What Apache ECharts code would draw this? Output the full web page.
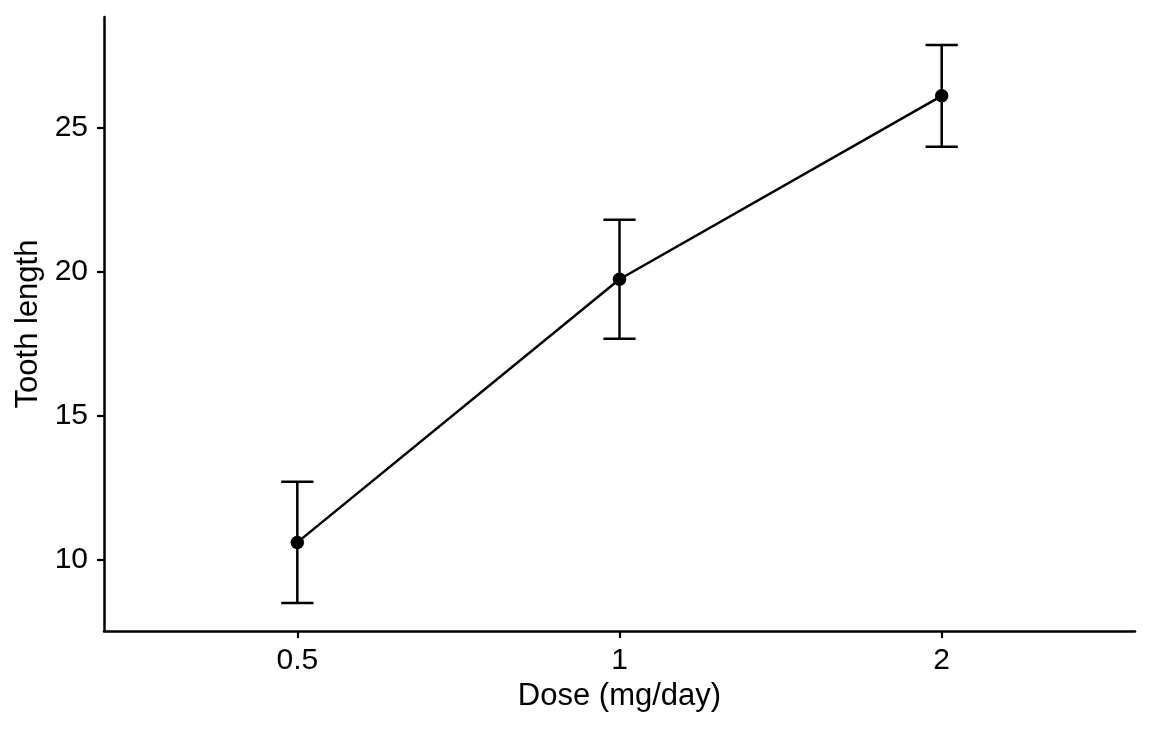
<!DOCTYPE html>
<html>
<head>
<meta charset="utf-8">
<script src="https://cdn.jsdelivr.net/npm/echarts@6/dist/echarts.min.js"></script>
<style>
  html, body { margin: 0; padding: 0; background: #fff; }
  #chart { width: 1152px; height: 729px; }
</style>
</head>
<body>
<div id="chart"></div>
<script>
const doses = ["0.5", "1", "2"];
const means = [10.605, 19.735, 26.1];
const lower = [8.499, 17.669, 24.334];
const upper = [12.711, 21.801, 27.866];
const yTicks = [10, 15, 20, 25];

const xPos = doses.map((d, i) => i + 1);
const font = "'Liberation Sans', Arial, sans-serif";

const chart = echarts.init(document.getElementById("chart"));

chart.setOption({
  animation: false,
  grid: { left: 104, right: 17, top: 17, bottom: 98 },
  xAxis: {
    type: "value",
    min: 0.4,
    max: 3.6,
    name: "Dose (mg/day)",
    nameLocation: "middle",
    nameGap: 50,
    nameTextStyle: { color: "#000", fontSize: 31, fontFamily: font },
    splitLine: { show: false },
    axisLine: { show: true, lineStyle: { color: "#000", width: 2.5 } },
    axisTick: { show: true, length: 7, customValues: xPos, lineStyle: { color: "#000", width: 2.2 } },
    axisLabel: {
      customValues: xPos,
      color: "#000",
      fontSize: 30,
      fontFamily: font,
      margin: 15,
      formatter: (v) => doses[Math.round(v) - 1],
    },
  },
  yAxis: {
    type: "value",
    min: 7.531,
    max: 28.834,
    name: "Tooth length",
    nameLocation: "middle",
    nameGap: 60,
    nameTextStyle: { color: "#000", fontSize: 31, fontFamily: font },
    splitLine: { show: false },
    axisLine: { show: true, lineStyle: { color: "#000", width: 2.5 } },
    axisTick: { show: true, length: 7, customValues: yTicks, lineStyle: { color: "#000", width: 2.2 } },
    axisLabel: {
      customValues: yTicks,
      color: "#000",
      fontSize: 30,
      fontFamily: font,
      margin: 16,
    },
  },
  series: [
    {
      type: "custom",
      name: "CI",
      data: xPos.map((x, i) => [x, lower[i], upper[i]]),
      renderItem: function (params, api) {
        const x = api.value(0);
        const lo = api.coord([x, api.value(1)]);
        const hi = api.coord([x, api.value(2)]);
        const half = api.coord([x + 0.05, 0])[0] - api.coord([x, 0])[0];
        const style = { stroke: "#000", lineWidth: 2.5 };
        return {
          type: "group",
          children: [
            { type: "line", shape: { x1: lo[0], y1: lo[1], x2: hi[0], y2: hi[1] }, style: style },
            { type: "line", shape: { x1: lo[0] - half, y1: lo[1], x2: lo[0] + half, y2: lo[1] }, style: style },
            { type: "line", shape: { x1: hi[0] - half, y1: hi[1], x2: hi[0] + half, y2: hi[1] }, style: style },
          ],
        };
      },
      z: 1,
    },
    {
      type: "line",
      name: "Mean",
      data: xPos.map((x, i) => [x, means[i]]),
      symbol: "circle",
      symbolSize: 13.5,
      itemStyle: { color: "#000" },
      lineStyle: { color: "#000", width: 2.5 },
      z: 2,
    },
  ],
});
</script>
</body>
</html>
